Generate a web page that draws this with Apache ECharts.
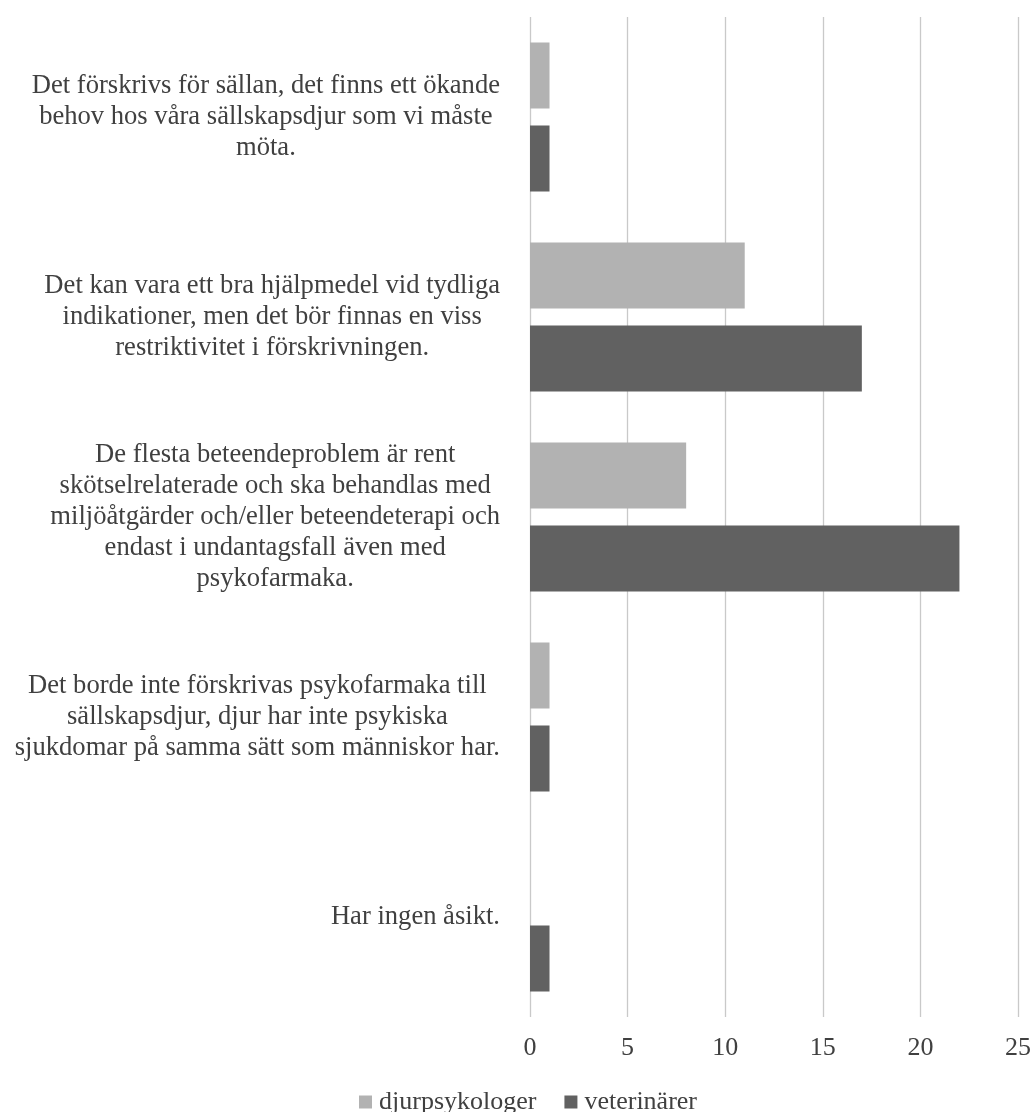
<!DOCTYPE html>
<html>
<head>
<meta charset="utf-8">
<script src="https://cdn.jsdelivr.net/npm/echarts@6/dist/echarts.min.js"></script>
<style>
  html, body { margin: 0; padding: 0; background: #ffffff; }
  #chart { width: 1034px; height: 1112px; }
</style>
</head>
<body>
<div id="chart"></div>
<script>
const categories = [
  "Det förskrivs för sällan, det finns ett ökande\nbehov hos våra sällskapsdjur som vi måste\nmöta.",
  "Det kan vara ett bra hjälpmedel vid tydliga\nindikationer, men det bör finnas en viss\nrestriktivitet i förskrivningen.",
  "De flesta beteendeproblem är rent\nskötselrelaterade och ska behandlas med\nmiljöåtgärder och/eller beteendeterapi och\nendast i undantagsfall även med\npsykofarmaka.",
  "Det borde inte förskrivas psykofarmaka till\nsällskapsdjur, djur har inte psykiska\nsjukdomar på samma sätt som människor har.",
  "Har ingen åsikt."
];
const seriesNames = ["djurpsykologer", "veterinärer"];
const djurpsykologer = [1, 11, 8, 1, 0];
const veterinarer = [1, 17, 22, 1, 1];
const xTicks = [0, 5, 10, 15, 20, 25];

const FONT = '"Liberation Serif", "Times New Roman", serif';
const TEXT = '#404040';

const chart = echarts.init(document.getElementById('chart'), null, { renderer: 'canvas' });
chart.setOption({
  animation: false,
  backgroundColor: '#ffffff',
  grid: { left: 530, right: 16, top: 17, bottom: 95, containLabel: false },
  legend: {
    data: seriesNames,
    left: 354,
    top: 1084,
    icon: 'rect',
    itemWidth: 13,
    itemHeight: 13,
    itemGap: 28,
    textStyle: { fontFamily: FONT, fontSize: 26, color: TEXT, padding: [0, 0, 0, 2] }
  },
  xAxis: {
    type: 'value',
    min: xTicks[0],
    max: xTicks[xTicks.length - 1],
    interval: xTicks[1] - xTicks[0],
    axisLine: { show: false },
    axisTick: { show: false },
    splitLine: { show: true, lineStyle: { color: '#c9c9c9', width: 1.3 } },
    axisLabel: { fontFamily: FONT, fontSize: 26, color: TEXT, margin: 18 }
  },
  yAxis: {
    type: 'category',
    data: categories,
    inverse: true,
    axisLine: { show: false },
    axisTick: { show: false },
    axisLabel: {
      align: 'right',
      margin: 30,
      interval: 0,
      formatter: function (v) {
        return v.split('\n').map(function (l) { return '{c|' + l + '}'; }).join('\n');
      },
      rich: {
        c: { align: 'center', fontFamily: FONT, fontSize: 26.6, lineHeight: 31, color: TEXT }
      }
    }
  },
  series: [
    {
      name: seriesNames[0],
      type: 'bar',
      data: djurpsykologer,
      barWidth: 66,
      barGap: '26%',
      itemStyle: { color: '#b2b2b2' }
    },
    {
      name: seriesNames[1],
      type: 'bar',
      data: veterinarer,
      barWidth: 66,
      barGap: '26%',
      itemStyle: { color: '#616161' }
    }
  ]
});
</script>
</body>
</html>
